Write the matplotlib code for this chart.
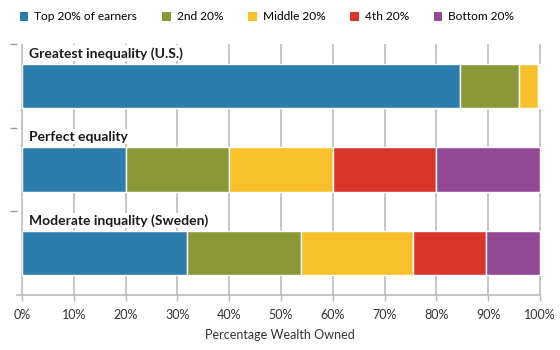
import matplotlib
matplotlib.use("Agg")
import matplotlib.pyplot as plt
from matplotlib.patches import Patch
import numpy as np

plt.rcParams['font.family'] = ['Lato', 'DejaVu Sans']

scenarios = ["Greatest inequality (U.S.)", "Perfect equality", "Moderate inquality (Sweden)"]
groups = ["Top 20% of earners", "2nd 20%", "Middle 20%", "4th 20%", "Bottom 20%"]
top20 = [84.6, 20, 31.8]
second20 = [11.3, 20, 22.0]
middle20 = [3.8, 20, 21.6]
fourth20 = [0.2, 20, 14.1]
bottom20 = [0.1, 20, 10.5]
colors = ["#2b7dab", "#8a9837", "#f8c12c", "#d9362b", "#934a96"]
xticks = [0, 10, 20, 30, 40, 50, 60, 70, 80, 90, 100]
xticklabels = [f"{v}%" for v in xticks]

series = [top20, second20, middle20, fourth20, bottom20]

fig = plt.figure(figsize=(5.6, 3.5), dpi=100)
x0, x1 = -1.0, 100.5
ppu = 518 / 100.0
axl = 22 - (0 - x0) * ppu
axw = (x1 - x0) * ppu
ax = fig.add_axes([axl/560, 1-295/350, axw/560, 251/350])

y = np.arange(len(scenarios))
left = np.zeros(len(scenarios))
for vals, col, name in zip(series, colors, groups):
    ax.barh(y, vals, left=left, height=0.53, color=col, edgecolor="white",
            linewidth=1.0, label=name, zorder=3)
    left += np.array(vals)

for xv in xticks:
    ax.plot([xv, xv], [-0.5, 2.5], color="#b5b5b5", lw=1.1, zorder=1, solid_capstyle="butt")

for i, s in enumerate(scenarios):
    ax.text(1.4, i - 0.39, s, fontsize=10, fontweight="bold", va="center", ha="left",
            color="#1a1a1a", zorder=2,
            bbox=dict(facecolor="white", edgecolor="none", pad=1.0))

ax.set_xlim(x0, x1)
ax.set_ylim(2.5, -0.5)
ax.set_xticks(xticks)
ax.set_xticklabels(xticklabels, fontsize=9, color="#333333")
ax.set_yticks([-0.5, 0.5, 1.5])
ax.set_yticklabels([])
ax.tick_params(axis="y", length=5, color="#999999", width=1)
ax.tick_params(axis="x", length=4, color="#b5b5b5", width=1, pad=6)
for sp in ["top", "right", "left"]:
    ax.spines[sp].set_visible(False)
ax.spines["bottom"].set_color("#b5b5b5")
ax.spines["bottom"].set_linewidth(1.1)
ax.spines["bottom"].set_bounds(-1.0, 100)
ax.set_xlabel("Percentage Wealth Owned", fontsize=9, color="#333333", labelpad=6)

handles = [Patch(facecolor=c, edgecolor="none") for c in colors]
fig.legend(handles, groups, loc="center left", bbox_to_anchor=(20/560, 1-17/350), ncol=5,
           frameon=False, fontsize=8.6, handlelength=0.7, handleheight=0.7,
           handletextpad=0.5, columnspacing=2.1, borderaxespad=0, borderpad=0)

fig.savefig("out.png", dpi=100, facecolor="white")
